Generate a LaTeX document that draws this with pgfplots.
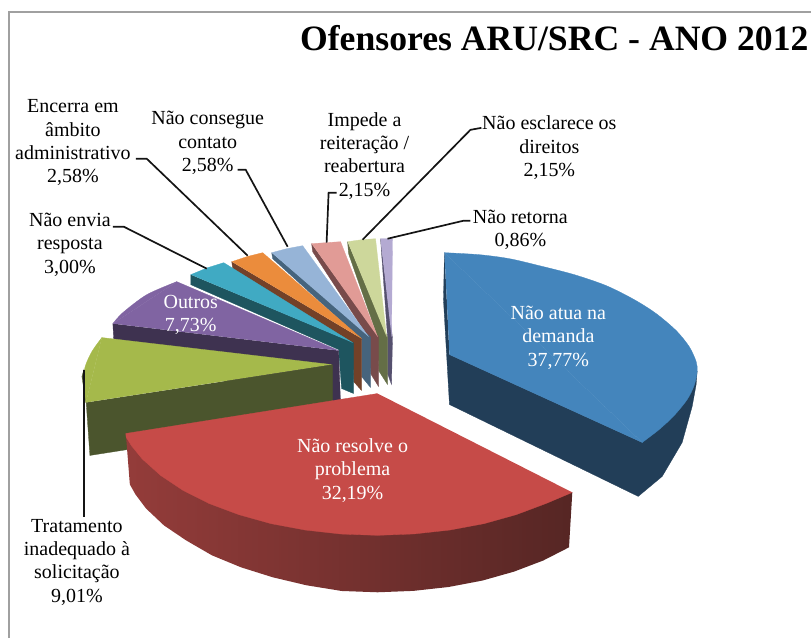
\documentclass[border=0pt]{standalone}
\usepackage{pgfplots}
\pgfplotsset{compat=1.18}
\usepackage{fontspec}
\setmainfont{Liberation Serif}
\definecolor{bluetop}{RGB}{68,133,188}
\definecolor{blueside}{RGB}{34,62,88}
\definecolor{redtop}{RGB}{198,75,72}
\definecolor{oltop}{RGB}{165,185,75}
\definecolor{olside}{RGB}{75,85,45}
\definecolor{putop}{RGB}{128,100,162}
\definecolor{puside}{RGB}{62,50,80}
\definecolor{tetop}{RGB}{64,170,195}
\definecolor{teside}{RGB}{30,85,95}
\definecolor{ortop}{RGB}{235,140,60}
\definecolor{orside}{RGB}{115,65,40}
\definecolor{lbtop}{RGB}{150,180,215}
\definecolor{lbside}{RGB}{70,100,125}
\definecolor{pktop}{RGB}{225,155,150}
\definecolor{pkside}{RGB}{120,75,75}
\definecolor{lmtop}{RGB}{205,215,155}
\definecolor{lmside}{RGB}{100,110,70}
\definecolor{lvtop}{RGB}{180,170,210}
\definecolor{lvside}{RGB}{85,80,110}
\definecolor{lead}{RGB}{20,20,20}
\newcommand{\poly}[2]{\addplot[fill=#1,draw=#1,line width=0.3pt,no markers,forget plot] coordinates {#2};}
\newcommand{\arcfill}[2]{\addplot[fill=#1,draw=#1,line width=0.3pt,no markers,smooth,forget plot] coordinates {#2};}
\newcommand{\leader}[1]{\addplot[lead,line width=1.7pt,no markers,forget plot] coordinates {#1};}
\newcommand{\lab}[4][black]{\node[align=center,text=#1,inner sep=0pt,font=\fontsize{20}{23.3}\selectfont] at (axis cs:#2) {#3#4};}
\begin{document}
\begin{tikzpicture}
\begin{axis}[width=812pt,height=639pt,scale only axis,xmin=0,xmax=812,ymin=0,ymax=639,y dir=reverse,hide axis,clip=false]
\addplot[draw=none,no markers,forget plot] coordinates {(0,0)(812,639)};
% frame
\addplot[color={rgb,255:red,160;green,160;blue,160},line width=2pt,no markers,forget plot] coordinates {(9,639)(9,12.5)(812,12.5)};
% lavender
\poly{lvside}{(381,239)(388,337)(388,374)(392,385)(393,337)}
\poly{lvtop}{(381,239)(393,239)(392,337)}
% lime
\poly{lmside}{(348,242)(349,254)(378,337)(379,371)(388,385)(388,337)}
\poly{lmtop}{(348,242)(362,240)(376,239)(387,337)}
% pink
\poly{pkside}{(312,244)(313,252)(369,338)(371,374)(379,387)(379,337)}
\poly{pktop}{(312,244)(326,243)(341,242)(378,337)}
% light blue
\poly{lbside}{(272,253)(273,259)(362,340)(362,377)(371,388)(371,337)}
\poly{lbtop}{(272,253)(287,249)(303,246)(369,337)}
% orange
\poly{orside}{(232,262)(233,269)(353,345)(354,382)(362,391)(362,339)}
\poly{ortop}{(232,262)(247,257)(263,253)(362,339)}
% teal
\poly{teside}{(191,275)(191,285)(339,350)(342,389)(354,394)(354,343)}
\poly{tetop}{(191,275)(208,268)(224,263)(353,343)}
% purple
\poly{puside}{(113,324)(115,360)(341,405)(339,351)}
\arcfill{putop}{(113,324)(123,313)(147,295)(177,282)}
\poly{putop}{(113,324)(177,282)(339,351)}
% olive
\poly{olside}{(86,403)(82,377)(84,370)(90,456)(333,418)(333,365)}
\arcfill{oltop}{(86,403)(84,385)(85,368)(92,352)(102,338)}
\poly{oltop}{(86,403)(102,338)(332,365)}
% blue
\poly{blueside}{(445,253)(444,300)(450,405)(639,497)(663,477)(683,443)(693,407)(697,385)(698,372)(643,443)(450,355)}
\arcfill{bluetop}{(445,253)(480,255)(510,259)(540,266)(575,275)(607,286)(635,300)(657,314)(677,331)(690,347)(697,362)(698,372)(695,386)(688,400)(675,416)(660,430)(643,443)}
\poly{bluetop}{(445,253)(643,443)(450,355)}
% red
\addplot[draw=none,no markers,forget plot,left color={rgb,255:red,148;green,60;blue,58},middle color={rgb,255:red,135;green,52;blue,50},right color={rgb,255:red,86;green,38;blue,36}] coordinates {(126,434)(130,485)(135.6,495)(146.1,509)(164.1,526)(186.3,541)(212.2,556)(241.3,568)(273.1,578)(306.9,586)(342.1,591.7)(378,593)(413.9,591.6)(449.2,587.7)(482.9,581.3)(514.7,572.3)(543.9,561.2)(569.7,548)(573,493)};
\poly{redtop}{(378,394)(126,434)(126.2,437.5)(131.8,446.5)(142.5,459.6)(160.8,476)(183.3,491)(209.5,504.2)(239.2,515.3)(271.4,524.3)(305.7,530.7)(341.5,534.7)(378,536)(414.4,534.6)(450.3,530.7)(484.6,524.3)(516.8,515.3)(546.5,504.2)(573,493)}
% leaders
\leader{(136,159)(147,159)(248,256)}
\leader{(238,170)(246,170)(288,247)}
\leader{(337,193)(329,193)(327,243)}
\leader{(482,128)(471,130)(363,240)}
\leader{(471,221)(464,221)(388,239)}
\leader{(113,227)(124,227)(207,269)}
\leader{(84,370)(84,518)}
% labels
\node[font=\fontsize{35.7}{40}\selectfont\bfseries,inner sep=0pt] at (axis cs:555,38) {Ofensores ARU/SRC - ANO 2012};
\lab{73,143}{Encerra em\\âmbito\\administrativo\\}{2,58\%}
\lab{208,143}{Não consegue\\contato\\}{2,58\%}
\lab{365,156}{Impede a\\reiteração /\\reabertura\\}{2,15\%}
\lab{550,148}{Não esclarece os\\direitos\\}{2,15\%}
\lab{521,230}{Não retorna\\}{0,86\%}
\lab{70,245}{Não envia\\resposta\\}{3,00\%}
\lab[white]{191,315}{Outros\\}{7,73\%}
\lab[white]{559,338}{Não atua na\\demanda\\}{37,77\%}
\lab[white]{353,471}{Não resolve o\\problema\\}{32,19\%}
\lab{77,563}{Tratamento\\inadequado à\\solicitação\\}{9,01\%}
\end{axis}
\end{tikzpicture}
\end{document}
